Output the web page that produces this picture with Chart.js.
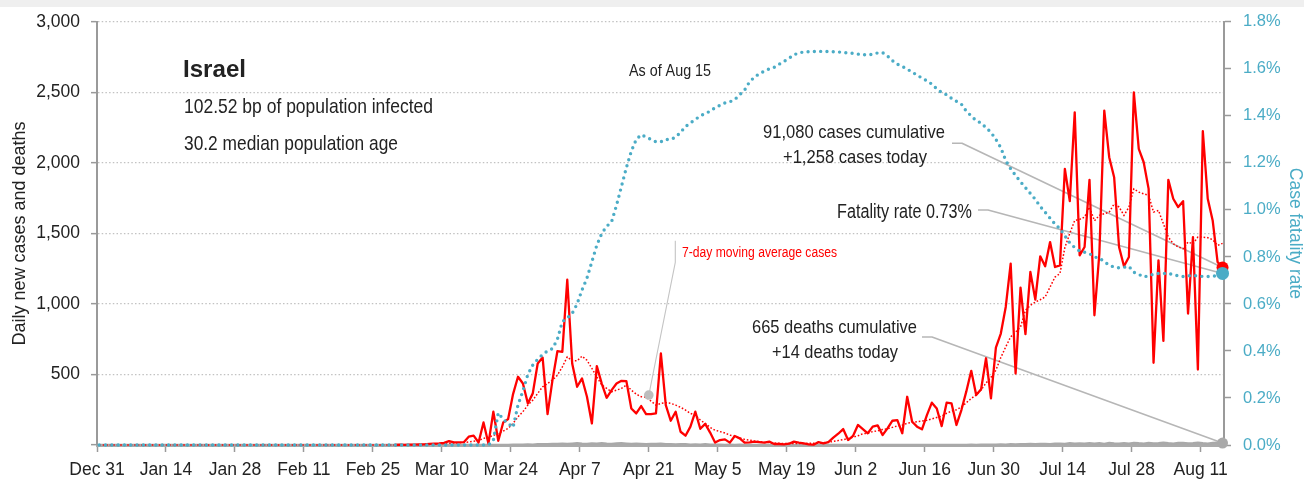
<!DOCTYPE html>
<html><head><meta charset="utf-8">
<script src="https://cdn.jsdelivr.net/npm/chart.js@4.4.1/dist/chart.umd.min.js"></script>
<style>
html,body{margin:0;padding:0;background:#fff;}
#band{position:absolute;left:0;top:0;width:1304px;height:7px;background:#efefef;}
#wrap{position:absolute;left:0;top:0;width:1304px;height:480px;}
</style></head><body>
<div id="band"></div>
<div id="wrap"><canvas id="c" width="1304" height="480"></canvas></div>
<script>
// ---------------- DATA ----------------
const tickLabels = ["Dec 31","Jan 14","Jan 28","Feb 11","Feb 25","Mar 10","Mar 24","Apr 7","Apr 21","May 5","May 19","Jun 2","Jun 16","Jun 30","Jul 14","Jul 28","Aug 11"];
const tickDays   = [0,14,28,42,56,70,84,98,112,126,140,154,168,182,196,210,224]; // days since Dec 31
const lastDay = 228; // Aug 15

// daily new cases, starting at day 60
const casesStartDay = 60;
const dailyCases = [
  0,2,1,3,2,5,5,8,10,12,
  15,28,18,18,20,59,66,18,160,10,
  236,30,160,184,361,484,436,295,366,578,
  620,219,460,665,660,1172,578,413,472,342,
  153,559,436,335,389,436,455,453,259,224,
  276,219,219,224,649,283,172,236,94,66,
  130,236,115,150,88,17,35,40,17,64,
  47,17,19,24,21,17,24,7,7,5,
  9,24,17,12,5,2,21,12,21,52,
  80,113,35,64,142,113,83,130,139,71,
  118,172,177,83,342,165,130,111,212,300,
  259,134,300,295,142,248,380,526,354,395,
  615,330,690,790,979,1286,507,1116,786,1227,
  1031,1338,1267,1439,1262,1274,1958,1729,2359,1345,
  1404,1880,920,1356,2371,2041,1899,1404,1267,1333,
  2500,2100,2005,1816,583,1309,738,1880,1746,1687,
  1729,932,1474,535,2225,1746,1592,1297,1258
];

// 7-day moving average of cases, starting at day 0
const movingAvgStartDay = 0;
const movingAvgCases = [
  0,0,0,0,0,0,0,0,0,0, 0,0,0,0,0,0,0,0,0,0,
  0,0,0,0,0,0,0,0,0,0, 0,0,0,0,0,0,0,0,0,0,
  0,0,0,0,0,0,0,0,0,0, 0,0,0,0,0,0,0,0,0,0,
  0,0,0,0,0,0,
  3,4,6,8,
  10,12,14,16,18,22,26,32,47,55,
  68,82,99,118,153,200,236,283,318,366,
  413,436,460,495,554,625,597,597,630,601,
  543,483,425,401,377,389,401,425,389,361,
  342,340,311,283,295,300,295,283,267,248,
  224,212,177,153,125,105,95,85,70,60,
  50,40,35,28,24,19,17,14,12,11,
  10,10,10,10,12,13,14,16,20,25,
  32,38,45,55,65,80,83,95,100,110,
  115,125,135,140,155,160,165,170,175,185,
  195,205,225,240,250,270,300,330,354,390,
  440,480,530,620,696,767,800,837,955,990,
  1014,1030,1050,1120,1191,1215,1400,1500,1592,1600,
  1616,1687,1590,1628,1640,1651,1710,1687,1628,1687,
  1816,1793,1781,1770,1651,1663,1569,1474,1427,1404,
  1392,1439,1427,1474,1474,1470,1456,1415,1430
];

// case fatality rate (%), starting at day 0
const fatalityStartDay = 0;
const fatalityRate = [
  0,0,0,0,0,0,0,0,0,0, 0,0,0,0,0,0,0,0,0,0,
  0,0,0,0,0,0,0,0,0,0, 0,0,0,0,0,0,0,0,0,0,
  0,0,0,0,0,0,0,0,0,0, 0,0,0,0,0,0,0,0,0,0,
  0,0,0,0,0,0,0,0,0,0, 0,0,0,0,0,0,0,0,0,0,
  0.02,0.137,0.109,0.092,0.075,0.17,0.23,0.30,0.34,0.365,
  0.385,0.40,0.41,0.45,0.525,0.54,0.56,0.60,0.66,0.71,
  0.78,0.85,0.90,0.93,0.95,1.02,1.10,1.18,1.25,1.30,
  1.32,1.31,1.30,1.29,1.29,1.30,1.30,1.31,1.33,1.355,
  1.37,1.385,1.40,1.41,1.42,1.435,1.445,1.455,1.46,1.47,
  1.49,1.51,1.545,1.565,1.58,1.59,1.60,1.607,1.62,1.632,
  1.645,1.66,1.668,1.672,1.673,1.674,1.674,1.675,1.674,1.673,
  1.672,1.67,1.668,1.666,1.663,1.66,1.66,1.662,1.668,1.669,
  1.655,1.635,1.62,1.61,1.60,1.585,1.575,1.56,1.55,1.535,
  1.515,1.50,1.49,1.475,1.462,1.45,1.42,1.40,1.38,1.37,
  1.35,1.33,1.30,1.265,1.21,1.175,1.147,1.12,1.095,1.07,
  1.045,1.015,0.99,0.965,0.94,0.92,0.89,0.86,0.84,0.825,
  0.82,0.814,0.80,0.795,0.78,0.765,0.757,0.754,0.756,0.76,
  0.735,0.726,0.715,0.72,0.727,0.73,0.73,0.73,0.725,0.72,
  0.717,0.72,0.72,0.72,0.717,0.717,0.718,0.72,0.73
];

// daily deaths, starting at day 0
const deathsStartDay = 0;
const dailyDeaths = [
  0,0,0,0,0,0,0,0,0,0, 0,0,0,0,0,0,0,0,0,0,
  0,0,0,0,0,0,0,0,0,0, 0,0,0,0,0,0,0,0,0,0,
  0,0,0,0,0,0,0,0,0,0, 0,0,0,0,0,0,0,0,0,0,
  0,0,0,0,0,0,0,0,0,0, 0,0,0,0,0,0,0,0,0,0,
  1,0,1,1,2,3,2,4,3,5,
  6,5,7,8,9,7,10,12,9,8,
  11,10,12,9,8,11,13,10,7,9,
  8,6,8,7,9,5,6,4,5,6,
  3,4,3,5,2,3,2,1,2,1,
  2,1,0,1,0,0,1,0,0,1,
  0,0,1,0,0,0,1,0,0,0,
  0,0,1,0,0,1,0,0,0,1,
  0,0,1,0,0,1,0,0,1,0,
  0,1,0,1,0,1,0,2,1,2,
  3,2,3,4,3,5,4,6,5,7,
  6,8,7,6,9,10,8,12,9,11,
  10,13,9,12,8,14,11,10,13,9,
  15,12,10,14,11,13,16,12,10,14,
  15,11,13,16,12,9,14,17,14
];

// annotation point on the moving average (Apr 21)
const maAnnotDay = 112;
const maAnnotValue = 354;

// ---------------- STYLE / LAYOUT ----------------
const FONT = '"Liberation Sans", Arial, Helvetica, sans-serif';
const TEAL = '#4bacc6';
const RED = '#ff0000';
const GRAYLINE = '#b6b6b6';
const AXIS = '#9a9a9a';
const POINT_SHIFT = 0.45;
const X_MAX = 228.75;

function series(startDay, values) {
  return values.map((v, i) => ({ x: startDay + i + POINT_SHIFT, y: v }));
}
function lastOnly(r) {
  return ctx => (ctx.dataIndex === ctx.dataset.data.length - 1 ? r : 0);
}

function drawText(ctx, str, left, baseline, o) {
  ctx.save();
  ctx.font = (o.weight || 'normal') + ' ' + o.size + 'px ' + FONT;
  ctx.fillStyle = o.color || '#222';
  ctx.textBaseline = 'alphabetic';
  ctx.textAlign = 'left';
  const w = ctx.measureText(str).width;
  const sx = o.width ? o.width / w : 1;
  ctx.translate(left, baseline);
  ctx.scale(sx, 1);
  ctx.fillText(str, 0, 0);
  ctx.restore();
}
function polyline(ctx, pts) {
  ctx.beginPath();
  ctx.moveTo(pts[0][0], pts[0][1]);
  for (let i = 1; i < pts.length; i++) ctx.lineTo(pts[i][0], pts[i][1]);
  ctx.stroke();
}

const annotations = {
  id: 'annotations',
  beforeDatasetsDraw(chart) {
    const { ctx, scales: { x, y, y1 } } = chart;
    const ex = x.getPixelForValue(lastDay + POINT_SHIFT);
    const pCases = [ex, y.getPixelForValue(dailyCases[dailyCases.length - 1])];
    const pRate = [ex, y1.getPixelForValue(fatalityRate[fatalityRate.length - 1])];
    const pDeaths = [ex, y.getPixelForValue(dailyDeaths[dailyDeaths.length - 1])];
    const pMA = [x.getPixelForValue(maAnnotDay), y.getPixelForValue(maAnnotValue)];
    ctx.save();
    ctx.strokeStyle = GRAYLINE;
    ctx.lineWidth = 1.6;
    ctx.lineJoin = 'round';
    polyline(ctx, [[952, 143.3], [962, 143.3], pCases]);
    polyline(ctx, [[978, 210], [988, 210], pRate]);
    polyline(ctx, [[922, 337], [932, 337], pDeaths]);
    ctx.lineWidth = 1.1;
    ctx.strokeStyle = '#c4c4c4';
    polyline(ctx, [[675.3, 240.7], [675.3, 262.3], pMA]);
    ctx.restore();
  },
  afterDatasetsDraw(chart) {
    const { ctx, scales: { x, y } } = chart;
    // gray marker on the moving average
    ctx.save();
    ctx.fillStyle = '#bdbdbd';
    ctx.beginPath();
    ctx.arc(x.getPixelForValue(maAnnotDay), y.getPixelForValue(maAnnotValue), 4.8, 0, Math.PI * 2);
    ctx.fill();
    ctx.restore();

    drawText(ctx, 'Israel', 183, 77, { size: 24, weight: 'bold', width: 63 });
    drawText(ctx, '102.52 bp of population infected', 184, 113, { size: 21, width: 249 });
    drawText(ctx, '30.2 median population age', 184, 150, { size: 21, width: 214 });
    drawText(ctx, 'As of Aug 15', 629, 76, { size: 16, width: 82 });
    drawText(ctx, '91,080 cases cumulative', 763, 138.3, { size: 19, width: 182 });
    drawText(ctx, '+1,258 cases today', 783, 163.3, { size: 19, width: 144 });
    drawText(ctx, 'Fatality rate 0.73%', 837, 218.3, { size: 19.5, width: 135 });
    drawText(ctx, '665 deaths cumulative', 752, 333.3, { size: 19, width: 165 });
    drawText(ctx, '+14 deaths today', 772, 358, { size: 19, width: 126 });
    drawText(ctx, '7-day moving average cases', 682, 256.5, { size: 15.5, width: 155, color: RED });
  }
};

new Chart(document.getElementById('c'), {
  type: 'line',
  data: {
    datasets: [
      {
        label: 'Case fatality rate',
        data: series(fatalityStartDay, fatalityRate),
        yAxisID: 'y1',
        borderColor: TEAL,
        backgroundColor: TEAL,
        borderWidth: 3.4,
        borderDash: [0, 6.3],
        borderCapStyle: 'round',
        pointRadius: lastOnly(6.5),
        pointBorderWidth: 0,
        pointBackgroundColor: TEAL,
        order: 0,
        clip: false
      },
      {
        label: '7-day moving average cases',
        data: series(movingAvgStartDay, movingAvgCases),
        yAxisID: 'y',
        borderColor: RED,
        borderWidth: 1.5,
        borderDash: [1.6, 1.9],
        pointRadius: 0,
        order: 1,
        clip: false
      },
      {
        label: 'Daily new cases',
        data: series(casesStartDay, dailyCases),
        yAxisID: 'y',
        borderColor: RED,
        backgroundColor: RED,
        borderWidth: 2.3,
        borderJoinStyle: 'round',
        pointRadius: lastOnly(6),
        pointBorderWidth: 0,
        pointBackgroundColor: RED,
        order: 2,
        clip: false
      },
      {
        label: 'Daily deaths',
        data: series(deathsStartDay, dailyDeaths),
        yAxisID: 'y',
        borderColor: '#a9a9a9',
        backgroundColor: '#a9a9a9',
        borderWidth: 2.4,
        pointRadius: lastOnly(5.5),
        pointBorderWidth: 0,
        pointBackgroundColor: '#a9a9a9',
        order: 3,
        clip: false
      }
    ]
  },
  options: {
    responsive: false,
    animation: false,
    devicePixelRatio: 1,
    events: [],
    layout: { padding: { top: 21, left: 0, right: 0, bottom: 0 } },
    elements: { line: { tension: 0 } },
    plugins: { legend: { display: false }, tooltip: { enabled: false } },
    scales: {
      x: {
        type: 'linear',
        min: 0,
        max: X_MAX,
        afterBuildTicks: s => { s.ticks = tickDays.map(v => ({ value: v })); },
        afterFit: s => { s.height = 35; },
        ticks: {
          autoSkip: false,
          maxRotation: 0,
          includeBounds: false,
          padding: 8,
          color: '#222',
          font: { family: FONT, size: 17.5 },
          callback: v => tickLabels[tickDays.indexOf(v)]
        },
        grid: { drawOnChartArea: false, drawTicks: true, tickLength: 7, tickColor: AXIS, tickWidth: 1.5 },
        border: { display: true, color: '#ababab', width: 3 }
      },
      y: {
        position: 'left',
        min: 0,
        max: 3000,
        afterFit: s => { s.width = 97; },
        ticks: {
          stepSize: 500,
          padding: 11,
          color: '#222',
          font: { family: FONT, size: 17.5 },
          callback: v => (v === 0 ? '' : v.toLocaleString('en-US'))
        },
        grid: { color: '#c2c2c2', lineWidth: 1.3, tickLength: 6, tickColor: AXIS, tickWidth: 1.5, tickBorderDash: [] },
        border: { display: true, color: AXIS, width: 2, dash: [1.5, 2.2] },
        title: {
          display: true,
          text: 'Daily new cases and deaths',
          color: '#222',
          font: { family: FONT, size: 18, lineHeight: 1.2 },
          padding: { top: 9, bottom: 0 }
        }
      },
      y1: {
        position: 'right',
        min: 0,
        max: 1.8,
        afterFit: s => { s.width = 80; },
        ticks: {
          stepSize: 0.2,
          padding: 12,
          color: TEAL,
          font: { family: FONT, size: 16.5 },
          callback: v => v.toFixed(1) + '%'
        },
        grid: { drawOnChartArea: false, tickLength: 7, tickColor: AXIS, tickWidth: 1.5 },
        border: { display: true, color: AXIS, width: 2 },
        title: {
          display: true,
          text: 'Case fatality rate',
          color: TEAL,
          font: { family: FONT, size: 17.5, lineHeight: 1.0 },
          padding: { top: 0, bottom: 0 }
        }
      }
    }
  },
  plugins: [annotations]
});
</script>
</body></html>
